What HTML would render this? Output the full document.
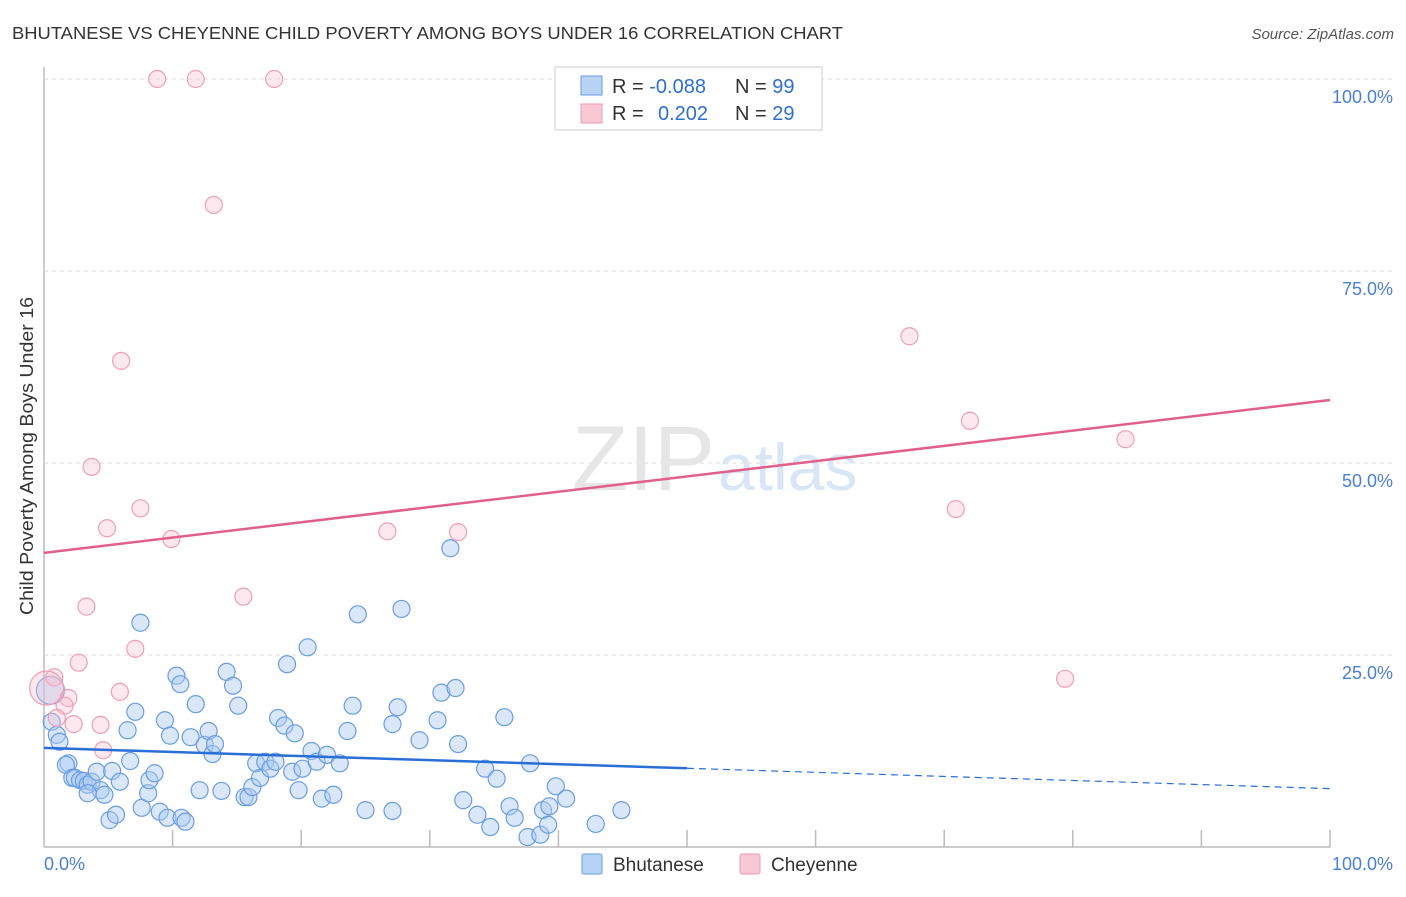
<!DOCTYPE html>
<html><head><meta charset="utf-8"><style>
body{margin:0;background:#fff;font-family:"Liberation Sans",sans-serif;}
svg text{font-family:"Liberation Sans",sans-serif;}
</style></head><body>
<svg width="1406" height="892">
<text x="12" y="39" font-size="17.5" fill="#333" textLength="831" lengthAdjust="spacingAndGlyphs">BHUTANESE VS CHEYENNE CHILD POVERTY AMONG BOYS UNDER 16 CORRELATION CHART</text>
<text x="1394" y="39" font-size="15" fill="#555" text-anchor="end" font-style="italic">Source: ZipAtlas.com</text>
<text x="0" y="0" transform="translate(33,456) rotate(-90)" font-size="18" fill="#333" text-anchor="middle" textLength="318" lengthAdjust="spacingAndGlyphs">Child Poverty Among Boys Under 16</text>
<g id="grid"></g>
<text x="715" y="490" font-size="92" fill="#e6e6e6" text-anchor="end" font-family="Liberation Serif">ZIP</text>
<text x="718" y="490" font-size="66" fill="#d9e6f6">atlas</text>
<g id="pts"></g>
<g id="lines"></g>
<g>
<rect x="555" y="67" width="267" height="63" fill="#fff" stroke="#ccc"/>
<rect x="581" y="76" width="21" height="19" fill="#b9d3f5" stroke="#6a9de0"/>
<rect x="581" y="104" width="21" height="19" fill="#f9c8d5" stroke="#eb9ab2"/>
<text x="612" y="93" font-size="20" fill="#333">R = <tspan fill="#2f6fd0">-0.088</tspan></text>
<text x="735" y="93" font-size="20" fill="#333">N = <tspan fill="#2f6fd0">99</tspan></text>
<text x="612" y="120" font-size="20" fill="#333">R = <tspan fill="#2f6fd0" x="658">0.202</tspan></text>
<text x="735" y="120" font-size="20" fill="#333">N = <tspan fill="#2f6fd0">29</tspan></text>
</g>
<g>
<rect x="582" y="854" width="20" height="20" fill="#b9d3f5" stroke="#6a9de0" rx="2"/>
<text x="613" y="871" font-size="19" fill="#333">Bhutanese</text>
<rect x="740" y="854" width="20" height="20" fill="#f9c8d5" stroke="#eb9ab2" rx="2"/>
<text x="771" y="871" font-size="19" fill="#333">Cheyenne</text>
</g>
<text x="44" y="870" font-size="18" fill="#4a7fd4">0.0%</text>
<text x="1393" y="870" font-size="18" fill="#4a7fd4" text-anchor="end">100.0%</text>
</svg>
<script>
const yTicks=[25,50,75,100];
const yTickLabels=["25.0%","50.0%","75.0%","100.0%"];
const xTicks=[10,20,30,40,50,60,70,80,90,100];
const blueX=[0.5,0.6,1.0,1.2,1.9,1.7,2.2,2.4,2.8,3.1,3.4,3.7,4.1,4.4,3.4,4.7,5.1,5.6,5.3,5.9,6.5,6.7,7.1,7.5,7.6,8.1,8.2,8.6,9.0,9.4,9.6,9.8,10.3,10.6,10.7,11.0,11.4,11.8,12.1,12.5,12.8,13.1,13.3,13.8,14.2,14.7,15.1,15.6,15.9,16.2,16.5,16.8,17.2,17.6,18.0,18.2,18.7,18.9,19.3,19.5,19.8,20.1,20.5,20.8,21.2,21.6,22.0,22.5,23.0,23.6,24.0,24.4,25.0,27.1,27.1,27.5,27.8,29.2,30.6,30.9,31.6,32.0,32.2,32.6,33.7,34.3,34.7,35.2,35.8,36.2,36.6,37.6,37.8,38.6,38.8,39.2,39.3,39.8,40.6,42.9,44.9];
const blueY=[20.4,16.3,14.6,13.7,10.9,10.7,9.0,9.0,8.7,8.6,8.1,8.5,9.8,7.4,7.0,6.8,3.5,4.2,9.9,8.5,15.2,11.2,17.6,29.2,5.1,7.0,8.7,9.6,4.6,16.5,3.8,14.5,22.3,21.2,3.8,3.3,14.3,18.6,7.4,13.3,15.1,12.1,13.4,7.3,22.8,21.0,18.4,6.5,6.5,7.8,10.9,9.0,11.1,10.2,11.1,16.8,15.8,23.8,9.8,14.8,7.4,10.2,26.0,12.5,11.1,6.3,12.0,6.8,10.9,15.1,18.4,30.3,4.8,16.0,4.7,18.2,31.0,13.9,16.5,20.1,38.9,20.7,13.4,6.1,4.2,10.2,2.6,8.9,16.9,5.3,3.8,1.3,10.9,1.6,4.8,2.9,5.3,7.9,6.3,3.0,4.8];
const pinkX=[8.8,11.8,17.9,13.2,6.0,3.7,7.5,4.9,9.9,26.7,32.2,15.5,3.3,7.1,2.7,0.8,1.9,1.6,5.9,4.4,2.3,4.6,1.0,67.3,72.0,84.1,70.9,79.4,0.2];
const pinkY=[100,100,100,83.6,63.3,49.5,44.1,41.5,40.1,41.1,41.0,32.6,31.3,25.8,24.0,22.1,19.4,18.4,20.2,15.9,16.0,12.6,16.8,66.5,55.5,53.1,44.0,21.9,20.7];
const blueTrend=[12.9,7.6];
const pinkTrend=[38.3,58.2];
const X0=44,X1=1330,Y0=847,Y1=79;
const sx=v=>X0+(X1-X0)*v/100, sy=v=>Y0-(Y0-Y1)*v/100;
const NS="http://www.w3.org/2000/svg";
function mk(t,a,p){const e=document.createElementNS(NS,t);for(const k in a)e.setAttribute(k,a[k]);p.appendChild(e);return e;}
const grid=document.getElementById('grid');
const ax=mk('line',{x1:X0,y1:67,x2:X0,y2:Y0,stroke:'#bbb','stroke-width':1.5},grid);


const bx=mk('line',{x1:X0,y1:Y0,x2:X1,y2:Y0,stroke:'#bbb','stroke-width':1.5},grid);


yTicks.forEach((t,i)=>{
 const g=mk('line',{x1:X0,y1:sy(t),x2:1394,y2:sy(t),stroke:'#ddd','stroke-dasharray':'4,4'},grid);
 
 
 const l=mk('text',{x:1393,y:sy(t)+24,'font-size':18,fill:'#4a7fd4','text-anchor':'end'},grid);
 l.textContent=yTickLabels[i];
 
 
});
xTicks.forEach(t=>{
 const k=mk('line',{x1:sx(t),y1:830,x2:sx(t),y2:Y0,stroke:'#bbb','stroke-width':1.5},grid);
 
 
});
const pts=document.getElementById('pts');
blueX.forEach((x,i)=>{
 const c=mk('circle',{cx:sx(x),cy:sy(blueY[i]),r:i===0?14:8.5,fill:'rgba(170,202,242,0.45)',stroke:'#6a9de2','stroke-width':1.2},pts);
 
 
});
pinkX.forEach((x,i)=>{
 const c=mk('circle',{cx:sx(x),cy:sy(pinkY[i]),r:i===pinkX.length-1?17:8.5,fill:'rgba(247,190,206,0.35)',stroke:'#ee9fb6','stroke-width':1.2},pts);
 
 
});
const L=document.getElementById('lines');
const bm=blueTrend[0]+(blueTrend[1]-blueTrend[0])*0.5;
const b1=mk('line',{x1:sx(0),y1:sy(blueTrend[0]),x2:sx(50),y2:sy(bm),stroke:'#2a6fd6','stroke-width':2.5},L);


const b2=mk('line',{x1:sx(50),y1:sy(bm),x2:sx(100),y2:sy(blueTrend[1]),stroke:'#2a6fd6','stroke-width':1.2,'stroke-dasharray':'7,5'},L);


const p1=mk('line',{x1:sx(0),y1:sy(pinkTrend[0]),x2:sx(100),y2:sy(pinkTrend[1]),stroke:'#e0608a','stroke-width':2.5},L);


</script>
</body></html>
